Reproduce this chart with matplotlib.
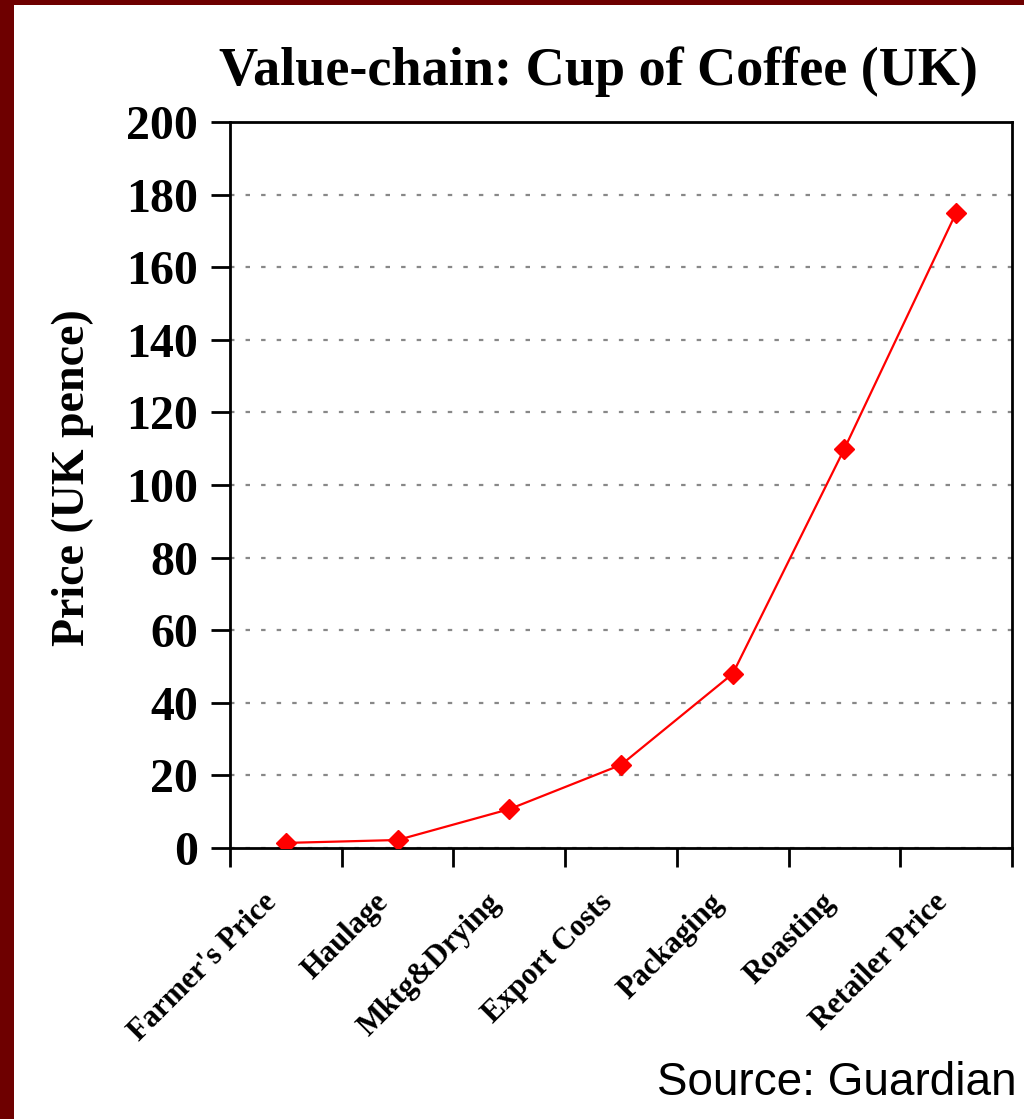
import matplotlib
matplotlib.use("Agg")
import matplotlib.pyplot as plt
from matplotlib.patches import Rectangle

categories = ["Farmer's Price", "Haulage", "Mktg&Drying", "Export Costs",
              "Packaging", "Roasting", "Retailer Price"]
prices = [1.4, 2.2, 10.7, 22.9, 48, 110, 175]
yticks = [0, 20, 40, 60, 80, 100, 120, 140, 160, 180, 200]

W, H = 1024, 1119
fig = plt.figure(figsize=(W/100, H/100), dpi=100)
fig.patch.set_facecolor("#6e0000")
fig.patches.append(Rectangle((14/W, 0), 1 - 14/W, 1 - 5/H, transform=fig.transFigure,
                             facecolor="white", edgecolor="none", zorder=-10))

serif = ["Liberation Serif", "DejaVu Serif"]
ax = fig.add_axes([230/W, 1 - 848/H, (1012-230)/W, (848-122)/H])
ax.set_zorder(5)
x = list(range(len(categories)))
ax.plot(x, prices, color="#ff0000", lw=1.6, marker="D", ms=10.5, mec="#ff0000", mfc="#ff0000", zorder=3)
ax.set_xlim(-0.5, len(categories) - 0.5)
ax.set_ylim(0, 200)
ax.set_yticks(yticks)
ax.set_yticklabels([str(v) for v in yticks], fontfamily=serif, fontweight="bold", fontsize=34.5)
ax.set_xticks([i - 0.5 for i in range(len(categories) + 1)])
ax.set_xticklabels([])
for i, c in enumerate(categories):
    ax.text(i - 0.21, -11, c, rotation=45, ha="right", va="top", rotation_mode="anchor",
            fontfamily=serif, fontweight="bold", fontsize=22, transform=ax.transData)
ax.tick_params(axis="both", direction="out", length=14, width=2)
ax.tick_params(axis="y", pad=9)
for s in ax.spines.values():
    s.set_linewidth(2)
ax.grid(axis="y", color="#888888", linestyle=(0, (2, 5)), lw=1.6)
ax.set_axisbelow(True)
ax.set_ylabel("Price (UK pence)", fontfamily=serif, fontweight="bold", fontsize=33)
ax.yaxis.set_label_coords((94 - 230) / (1012 - 230), 0.5 - (478 - 485) / (848 - 122))
fig.text(598/W, 1 - 72/H, "Value-chain: Cup of Coffee (UK)", ha="center", va="center",
         fontfamily=serif, fontweight="bold", fontsize=39)
fig.text(657/W, 1 - 1083/H, "Source: Guardian", ha="left", va="center",
         fontfamily=["Liberation Sans", "DejaVu Sans"], fontsize=33)

fig.savefig("out.png", dpi=100)
